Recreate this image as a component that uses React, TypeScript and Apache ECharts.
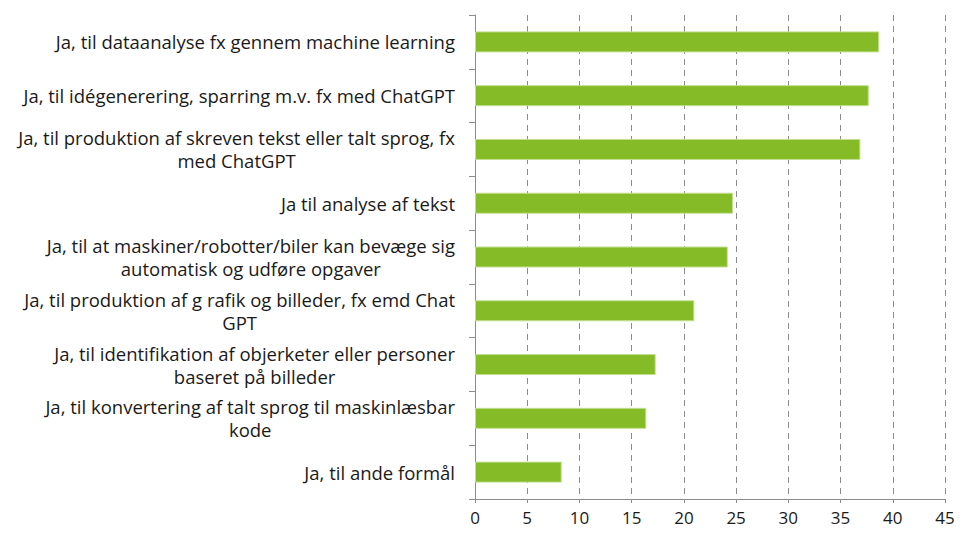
import React, { useEffect, useRef } from "react";
import * as echarts from "echarts";

const categories: string[] = [
  "Ja, til dataanalyse fx gennem machine learning",
  "Ja, til idégenerering, sparring m.v. fx med ChatGPT",
  "Ja, til produktion af skreven tekst eller talt sprog, fx\nmed ChatGPT",
  "Ja til analyse af tekst",
  "Ja, til at maskiner/robotter/biler kan bevæge sig\nautomatisk og udføre opgaver",
  "Ja, til produktion af g rafik og billeder, fx emd Chat\nGPT",
  "Ja, til identifikation af objerketer eller personer\nbaseret på billeder",
  "Ja, til konvertering af talt sprog til maskinlæsbar\nkode",
  "Ja, til ande formål",
];

const values: number[] = [38.7, 37.7, 36.9, 24.7, 24.2, 21.0, 17.3, 16.4, 8.3];

const xTicks: number[] = [0, 5, 10, 15, 20, 25, 30, 35, 40, 45];

export default function App() {
  const ref = useRef<HTMLDivElement>(null);
  useEffect(() => {
    if (!ref.current) return;
    const chart = echarts.init(ref.current, null, { renderer: "svg" });
    const font = "'Open Sans', 'Noto Sans', sans-serif";
    chart.setOption({
      animation: false,
      grid: { left: 475, right: 17, top: 15, bottom: 38, containLabel: false },
      xAxis: {
        type: "value",
        min: xTicks[0],
        max: xTicks[xTicks.length - 1],
        interval: 5,
        axisLine: { show: true, lineStyle: { color: "#8c8c8c", width: 1 } },
        axisTick: { show: true, length: 4, lineStyle: { color: "#8c8c8c" } },
        axisLabel: { color: "#1a1a1a", fontSize: 17, fontFamily: font, margin: 10 },
        splitLine: { show: true, lineStyle: { color: "#8c8c8c", type: [6, 5], width: 1 } },
      },
      yAxis: {
        type: "category",
        data: categories,
        inverse: true,
        axisLine: { show: true, lineStyle: { color: "#8c8c8c", width: 1 } },
        axisTick: { show: true, length: 6, lineStyle: { color: "#8c8c8c" } },
        axisLabel: {
          margin: 20,
          align: "right",
          lineHeight: 23,
          formatter: (v: string) =>
            v
              .split("\n")
              .map((l) => `{c|${l}}`)
              .join("\n"),
          rich: {
            c: {
              align: "center",
              color: "#1a1a1a",
              fontSize: 18.5,
              fontFamily: font,
              lineHeight: 23,
            },
          },
        },
        splitLine: { show: false },
      },
      series: [
        {
          type: "bar",
          data: values,
          barWidth: 21,
          itemStyle: { color: "#86bb28", borderColor: "#c2df8e", borderWidth: 1 },
        },
      ],
    });
    return () => chart.dispose();
  }, []);
  return (
    <div
      ref={ref}
      style={{ position: "fixed", left: 0, top: 0, width: 962, height: 537, background: "#fff" }}
    />
  );
}
